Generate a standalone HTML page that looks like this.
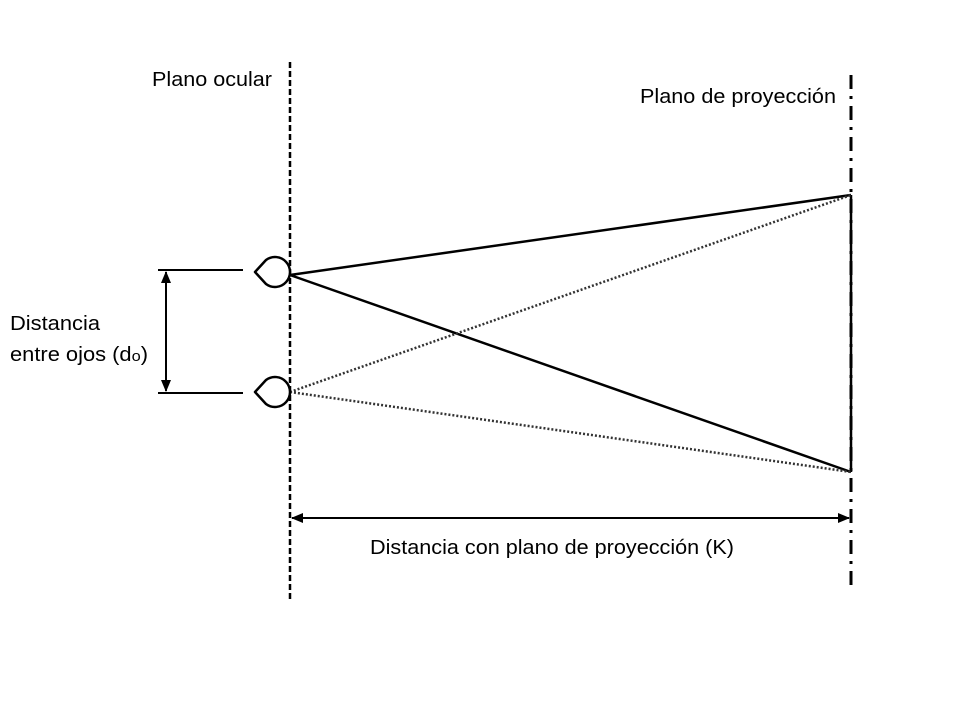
<!DOCTYPE html>
<html><head><style>html,body{margin:0;padding:0;background:#fff}svg{display:block}</style></head>
<body>
<svg width="960" height="720" viewBox="0 0 960 720" xmlns="http://www.w3.org/2000/svg" font-family="'Liberation Sans', sans-serif" font-size="20" fill="#000">
<defs>
<marker id="ah" markerWidth="12" markerHeight="10" refX="11" refY="5" orient="auto-start-reverse" markerUnits="userSpaceOnUse">
<path d="M0,0 L12,5 L0,10 Z" fill="#000"/>
</marker>
</defs>
<rect width="960" height="720" fill="#fff"/>
<line x1="290" y1="62" x2="290" y2="600" stroke="#000" stroke-width="2.5" stroke-dasharray="6,3"/>
<line x1="851" y1="75" x2="851" y2="592" stroke="#000" stroke-width="3" stroke-dasharray="14,7,3,7"/>
<line x1="851" y1="195" x2="851" y2="472" stroke="#000" stroke-width="2.5"/>
<line x1="290" y1="275" x2="851" y2="195" stroke="#000" stroke-width="2.5"/>
<line x1="290" y1="275" x2="851" y2="472" stroke="#000" stroke-width="2.5"/>
<line x1="290" y1="392" x2="851" y2="195" stroke="#333" stroke-width="2.5" stroke-dasharray="2,2"/>
<line x1="290" y1="392" x2="851" y2="472" stroke="#333" stroke-width="2.5" stroke-dasharray="2,2"/>
<path d="M255,272 L266,260 A15,15 0 1 1 266,284 Z" fill="#fff" stroke="#000" stroke-width="2.5" stroke-linejoin="round"/>
<path d="M255,392 L266,380 A15,15 0 1 1 266,404 Z" fill="#fff" stroke="#000" stroke-width="2.5" stroke-linejoin="round"/>
<line x1="158" y1="270" x2="243" y2="270" stroke="#000" stroke-width="2"/>
<line x1="158" y1="393" x2="243" y2="393" stroke="#000" stroke-width="2"/>
<line x1="166" y1="272" x2="166" y2="391" stroke="#000" stroke-width="2" marker-start="url(#ah)" marker-end="url(#ah)"/>
<line x1="292" y1="518" x2="849" y2="518" stroke="#000" stroke-width="2" marker-start="url(#ah)" marker-end="url(#ah)"/>
<text x="152" y="86" textLength="120" lengthAdjust="spacingAndGlyphs">Plano ocular</text>
<text x="640" y="103" textLength="196" lengthAdjust="spacingAndGlyphs">Plano de proyección</text>
<text x="10" y="330" textLength="90" lengthAdjust="spacingAndGlyphs">Distancia</text>
<text x="10" y="361" textLength="138" lengthAdjust="spacingAndGlyphs">entre ojos (d<tspan font-size="15">o</tspan>)</text>
<text x="370" y="554" textLength="364" lengthAdjust="spacingAndGlyphs">Distancia con plano de proyección (K)</text>
</svg>
</body></html>
